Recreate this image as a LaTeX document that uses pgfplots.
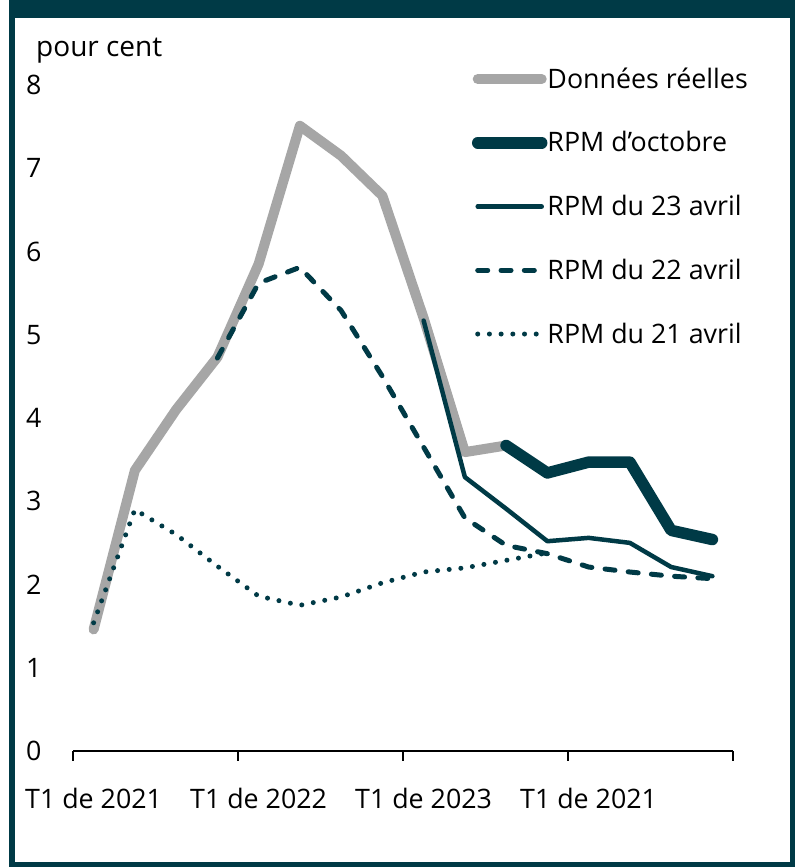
\documentclass[border=0pt]{standalone}
\usepackage{fontspec}
\setmainfont{Open Sans}
\usepackage{pgfplots}
\pgfplotsset{compat=1.18}
\definecolor{bocteal}{HTML}{003A46}
\definecolor{bocgray}{HTML}{A6A6A6}
\newcommand\chartfont{\fontsize{26.8}{32}\selectfont}
\begin{document}
\begin{tikzpicture}[x=1pt,y=1pt]
\useasboundingbox (0,0) rectangle (795,867);
\fill[white] (0,0) rectangle (795,867);
\fill[bocteal] (9,849) rectangle (795,867);
\fill[bocteal] (9,0) rectangle (15,867);
\fill[bocteal] (790,0) rectangle (795,867);
\fill[bocteal] (9,0) rectangle (795,5);
\node[anchor=base west, inner sep=0pt, font=\fontsize{28}{32}\selectfont] at (36,810) {pour cent};
\begin{axis}[
  at={(73pt,116pt)}, anchor=south west,
  scale only axis, width=660pt, height=666pt,
  xmin=-0.5, xmax=15.5, ymin=0, ymax=8,
  clip=false,
  axis x line*=bottom, axis y line*=left,
  y axis line style={draw=none},
  x axis line style={line width=2.5pt, black, -},
  /pgf/number format/assume math mode=true,
  ytick={0,1,2,3,4,5,6,7,8},
  ytick style={draw=none},
  yticklabel style={anchor=west, inner sep=0pt, xshift=-37pt, font=\chartfont},
  xtick={-0.5,3.5,7.5,11.5,15.5},
  xticklabels={T1 de 2021,T1 de 2022,T1 de 2023,T1 de 2021,{}},
  xtick style={line width=2.5pt, black},
  tick align=outside, major tick length=10pt,
  xticklabel style={anchor=north, inner sep=0pt, xshift=20.6pt, yshift=-27pt, font=\chartfont},
  legend style={at={(0.6045,1.0285)}, anchor=north west, draw=none, fill=none,
    inner sep=0pt, outer sep=0pt, row sep=37.75pt, column sep=0pt, font=\chartfont,
    nodes={inner sep=0pt, text height=22pt, text depth=4pt}},
  legend cell align=left,
  legend image code/.code={\draw[#1] (0pt,0pt) -- (64pt,0pt);},
  every axis plot/.append style={line join=round, line cap=round},
]
% Données réelles
\addplot[forget plot, bocgray, line width=10pt] coordinates {
(0,1.46) (1,3.37) (2,4.10) (3,4.73) (4,5.85) (5,7.51) (6,7.15) (7,6.67) (8,5.20) (9,3.59) (10,3.67)};
% RPM du 21 avril
\addplot[forget plot, bocteal, line width=5pt, dash pattern=on 0pt off 11.7pt] coordinates {
(0,1.54) (1,2.90) (2,2.60) (3,2.22) (4,1.86) (5,1.75) (6,1.85) (7,2.02) (8,2.15) (9,2.20) (10,2.29) (11,2.38)};
% RPM du 22 avril
\addplot[forget plot, bocteal, line width=5pt, dash pattern=on 10pt off 13.3pt] coordinates {
(3,4.72) (4,5.62) (5,5.81) (6,5.29) (7,4.50) (8,3.65) (9,2.80) (10,2.47) (11,2.37) (12,2.21) (13,2.15) (14,2.10) (15,2.07)};
% RPM du 23 avril
\addplot[forget plot, bocteal, line width=4.5pt] coordinates {
(8,5.17) (9,3.29) (10,2.91) (11,2.52) (12,2.56) (13,2.50) (14,2.21) (15,2.10)};
% RPM d'octobre
\addplot[forget plot, bocteal, line width=11.5pt] coordinates {
(10,3.67) (11,3.34) (12,3.47) (13,3.47) (14,2.65) (15,2.54)};
\addlegendimage{bocgray, line width=10pt, line cap=round}
\addlegendentry{Données réelles}
\addlegendimage{bocteal, line width=11.5pt, line cap=round}
\addlegendentry{RPM d’octobre}
\addlegendimage{bocteal, line width=4.5pt, line cap=round}
\addlegendentry{RPM du 23 avril}
\addlegendimage{bocteal, line width=5pt, line cap=round, dash pattern=on 10pt off 13.3pt}
\addlegendentry{RPM du 22 avril}
\addlegendimage{bocteal, line width=5pt, line cap=round, dash pattern=on 0pt off 11.7pt}
\addlegendentry{RPM du 21 avril}
\end{axis}
\end{tikzpicture}
\end{document}
